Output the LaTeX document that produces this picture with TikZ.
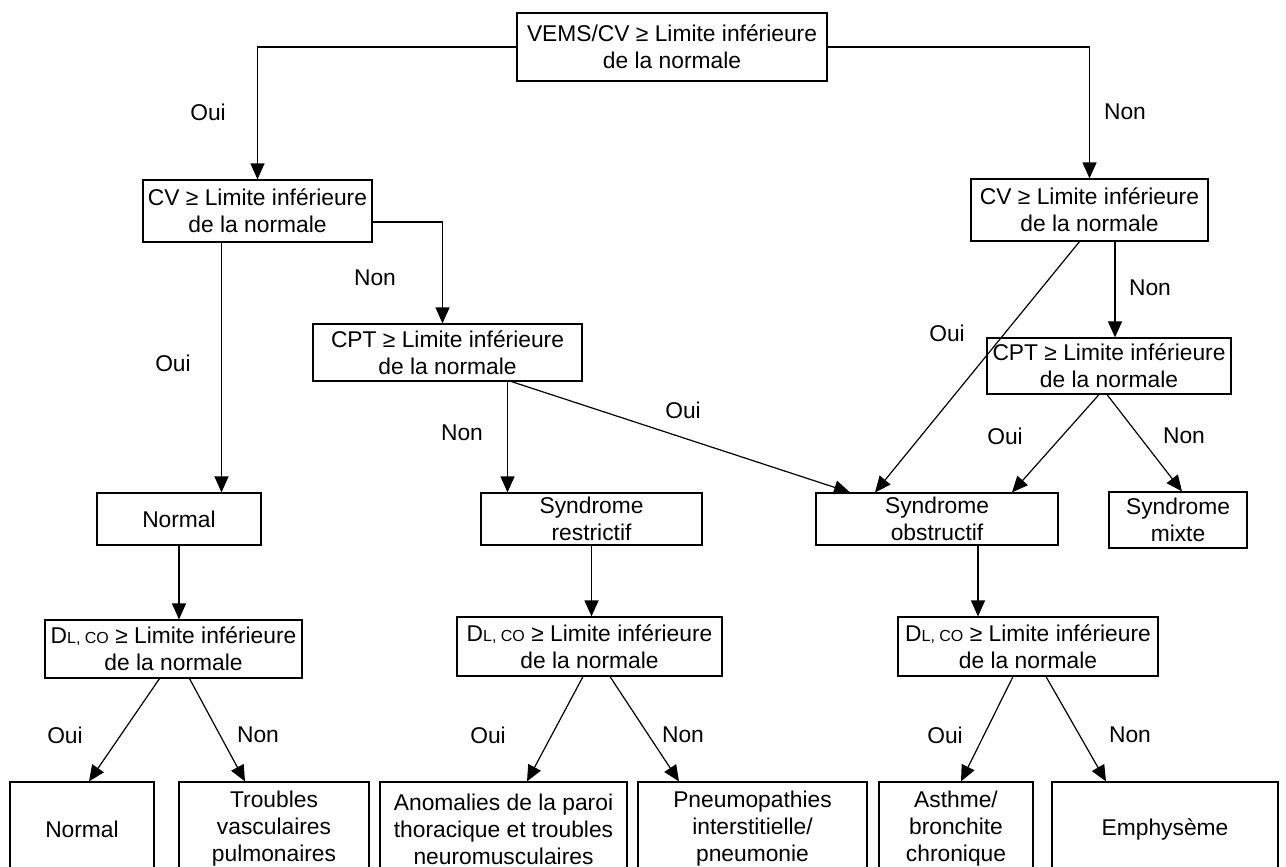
\documentclass[tikz,border=0pt]{standalone}
\usepackage{fontspec}
\setmainfont{Liberation Sans}
\usetikzlibrary{arrows.meta,calc}

\newcommand{\dlco}{D{\fontsize{8}{8}\selectfont L, CO}}

\begin{document}
\begin{tikzpicture}[
        x=0.5pt, y=-0.5pt,
        >={Triangle[length=8pt,width=7pt]},
        font=\fontsize{11.4}{13.5}\selectfont,
        every node/.style={align=center},
        box/.style={draw, line width=0.6pt, inner sep=0pt},
        lbl/.style={inner sep=0pt},
        conn/.style={->, line width=0.6pt}
    ]

        % --- Rahmen ---
        \useasboundingbox (0,0) rectangle (1286,867);
        \clip (0,0) rectangle (1286,867);

        % --- Ebene 1 ---
        \node[box, minimum width=155pt, minimum height=34pt] (vems) at (672,47)
            {VEMS/CV ≥ Limite inférieure\\de la normale};

        % --- Ebene 2 ---
        \node[box, minimum width=114.5pt, minimum height=31pt] (cvA) at (257.5,211)
            {CV ≥ Limite inférieure\\de la normale};
        \node[box, minimum width=118.5pt, minimum height=31pt] (cvB) at (1089.5,210)
            {CV ≥ Limite inférieure\\de la normale};

        % --- Ebene 3 ---
        \node[box, minimum width=134.5pt, minimum height=28.5pt] (cptA) at (447.5,352.5)
            {CPT ≥ Limite inférieure\\de la normale};
        \node[box, minimum width=122pt, minimum height=28pt] (cptB) at (1109,366)
            {CPT ≥ Limite inférieure\\de la normale};

        % --- Ebene 4 ---
        \node[box, minimum width=82pt, minimum height=26pt] (normal) at (179,519) {Normal};
        \node[box, minimum width=110.5pt, minimum height=26pt] (restr) at (591.5,519)
            {Syndrome\\restrictif};
        \node[box, minimum width=121pt, minimum height=26pt] (obstr) at (937,519)
            {Syndrome\\obstructif};
        \node[box, minimum width=69pt, minimum height=28pt] (mixte) at (1178,520)
            {Syndrome\\mixte};

        % --- Ebene 5 ---
        \node[box, minimum width=128.5pt, minimum height=29pt] (dlcoA) at (173.5,649)
            {\dlco\ ≥ Limite inférieure\\de la normale};
        \node[box, minimum width=132.5pt, minimum height=29.5pt] (dlcoB) at (589.5,646.5)
            {\dlco\ ≥ Limite inférieure\\de la normale};
        \node[box, minimum width=130pt, minimum height=29.5pt] (dlcoC) at (1028,646.5)
            {\dlco\ ≥ Limite inférieure\\de la normale};

        % --- Ebene 6 (unten abgeschnitten) ---
        \node[box, minimum width=72pt, minimum height=47pt] (resNormal) at (82,829) {Normal};
        \node[box, minimum width=95pt, minimum height=47pt] (resVasc) at (274,829)
            {Troubles\\vasculaires\\pulmonaires};
        \node[box, minimum width=123.5pt, minimum height=47pt] (resParoi) at (503.5,829)
            {Anomalies de la paroi\\thoracique et troubles\\neuromusculaires};
        \node[box, minimum width=114.5pt, minimum height=47pt] (resPneumo) at (752.5,829)
            {Pneumopathies\\interstitielle/\\pneumonie};
        \node[box, minimum width=77pt, minimum height=47pt] (resAsthme) at (956,829)
            {Asthme/\\bronchite\\chronique};
        \node[box, minimum width=113pt, minimum height=47pt] (resEmph) at (1165,829)
            {Emphysème};

        % --- Pfeile ---
        \draw[conn] (vems.west) -| (cvA.north);
        \draw[conn] (vems.east) -| (cvB.north);

        \draw[conn] ($(cvA.south)+(-36,0)$) -- ($(cvA.south |- normal.north)+(-36,0)$);
        \draw[conn] ($(cvA.east)+(0,11)$) -| ($(cptA.north)+(-5,0)$);

        \draw[conn] ($(cvB.south)+(-10,0)$) -- ($(obstr.north)+(-62,0)$);
        \draw[conn] ($(cvB.south)+(25.5,0)$) -- ($(cvB.south |- cptB.north)+(25.5,0)$);

        \draw[conn] ($(cptA.south)+(60,0)$) -- ($(cptA.south |- restr.north)+(60,0)$);
        \draw[conn] ($(cptA.south)+(64,0)$) -- ($(obstr.north)+(-87,0)$);

        \draw[conn] ($(cptB.south)+(-10,0)$) -- ($(obstr.north)+(75,0)$);
        \draw[conn] ($(cptB.south)+(-2,0)$) -- ($(mixte.north)+(4,0)$);

        \draw[conn] (normal.south) -- (normal.south |- dlcoA.north);
        \draw[conn] (restr.south) -- (restr.south |- dlcoB.north);
        \draw[conn] ($(obstr.south)+(41,0)$) -- ($(obstr.south |- dlcoC.north)+(41,0)$);

        \draw[conn] ($(dlcoA.south)+(-14,0)$) -- ($(resNormal.north)+(7,0)$);
        \draw[conn] ($(dlcoA.south)+(16,0)$) -- ($(resVasc.north)+(-29,0)$);
        \draw[conn] ($(dlcoB.south)+(-6.5,0)$) -- ($(resParoi.north)+(23.5,0)$);
        \draw[conn] ($(dlcoB.south)+(20.5,0)$) -- ($(resPneumo.north)+(-73.5,0)$);
        \draw[conn] ($(dlcoC.south)+(-15,0)$) -- ($(resAsthme.north)+(5,0)$);
        \draw[conn] ($(dlcoC.south)+(18,0)$) -- ($(resEmph.north)+(-59,0)$);

        % --- Beschriftungen ---
        \node[lbl] (lOui1) at (208,112) {Oui};
        \node[lbl] (lNon1) at (1125,112) {Non};
        \node[lbl] (lOui2) at (173,363) {Oui};
        \node[lbl] (lNon2) at (375,278) {Non};
        \node[lbl] (lOui3) at (947,333) {Oui};
        \node[lbl] (lNon3) at (1150,288) {Non};
        \node[lbl] (lNon4) at (462,433) {Non};
        \node[lbl] (lOui4) at (683,410) {Oui};
        \node[lbl] (lOui5) at (1005,436) {Oui};
        \node[lbl] (lNon5) at (1184,436) {Non};
        \node[lbl] (lOui6) at (65,735) {Oui};
        \node[lbl] (lNon6) at (258,735) {Non};
        \node[lbl] (lOui7) at (488,735) {Oui};
        \node[lbl] (lNon7) at (683,735) {Non};
        \node[lbl] (lOui8) at (945,735) {Oui};
        \node[lbl] (lNon8) at (1130,735) {Non};

    \end{tikzpicture}
\end{document}
